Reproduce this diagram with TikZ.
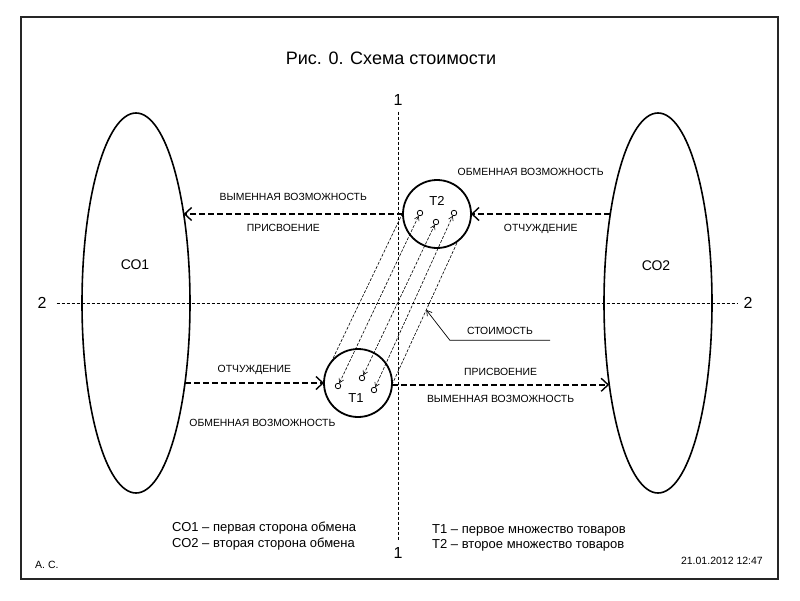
\documentclass[tikz,border=0pt]{standalone}
\usepackage{fontspec}
\setmainfont{Liberation Sans}
\usetikzlibrary{arrows.meta,shapes.geometric,positioning}

\begin{document}
\begin{tikzpicture}[
    x=1pt, y=-1pt,
    party/.style={ellipse, draw, line width=1.6pt, minimum width=108pt, minimum height=380pt, inner sep=0pt, outer sep=0pt},
    goods/.style={circle, draw, line width=1.8pt, minimum size=68pt, inner sep=0pt, outer sep=0pt},
    item/.style={circle, draw, line width=0.8pt, minimum size=5.5pt, inner sep=0pt},
    axisline/.style={line width=0.7pt, dash pattern=on 3pt off 2pt},
    flow/.style={line width=1.8pt, dash pattern=on 6pt off 3pt, -{Straight Barb[length=7pt,width=13pt,line width=1.4pt]}},
    band/.style={line width=0.6pt, dash pattern=on 3pt off 1.5pt},
    pair/.style={band, {Straight Barb[length=4pt,width=5pt]}-{Straight Barb[length=4pt,width=5pt]}},
    pointer/.style={line width=0.7pt, -{Straight Barb[length=5pt,width=6pt]}},
    tag/.style={font=\fontsize{10.4}{12}\selectfont, inner sep=0pt},
    num/.style={font=\fontsize{16}{18}\selectfont, inner sep=0pt},
    note/.style={font=\fontsize{13}{15}\selectfont, inner sep=0pt, anchor=base west}
]
\fill[white] (0,0) rectangle (800,600);
\useasboundingbox (0,0) rectangle (800,600);
\draw[line width=2.2pt, black!85] (21,17) rectangle (778,579);

\node[font=\fontsize{18}{20}\selectfont] (title) at (391,58) {Рис. 0. Схема стоимости};

% axes
\node[num] (ax1t) at (398,100) {1};
\node[num] (ax1b) at (398,553) {1};
\node[num] (ax2l) at (42,303) {2};
\node[num] (ax2r) at (748,303) {2};
\draw[axisline, shorten <=6pt, shorten >=7pt] (ax1t) -- (ax1b);
\draw[axisline, shorten <=10pt, shorten >=6pt] (ax2l) -- (ax2r);

% sides of the exchange
\node[party] (co1) at (136,303) {};
\node[party] (co2) at (658,303) {};
\node[font=\fontsize{14}{16}\selectfont] (co1txt) at (135,265) {СО1};
\node[font=\fontsize{14}{16}\selectfont] (co2txt) at (656,266) {СО2};

% sets of goods
\node[goods] (t1) at (358,383) {};
\node[goods] (t2) at (437,214) {};
\node[font=\fontsize{13}{15}\selectfont] (t1txt) at (356,398) {Т1};
\node[font=\fontsize{13}{15}\selectfont] (t2txt) at (437,201) {Т2};

\node[item] (a1) at (338,386) {};
\node[item] (a2) at (362,378) {};
\node[item] (a3) at (374,390) {};
\node[item] (b1) at (420,213) {};
\node[item] (b2) at (436,222) {};
\node[item] (b3) at (454,213) {};
\foreach \i in {1,2,3}
    \draw[pair] (a\i) -- (b\i);

\draw[band] (t1.142) -- (t2.177);
\draw[band] (t1.-3) -- coordinate[pos=0.52] (valtip) (t2.-52);

\node[tag, inner ysep=5.3pt, minimum width=100pt] (valtxt) at (500,331) {СТОИМОСТЬ};
\draw[pointer] (valtxt.south east) -- (valtxt.south west) -- (valtip);

% flows between the sides and the goods
\draw[flow] (t2.west) -- node[tag, yshift=17pt] {ВЫМЕННАЯ ВОЗМОЖНОСТЬ}
    node[tag, yshift=-14pt, xshift=-10pt] {ПРИСВОЕНИЕ} (co1.62 |- t2.west);
\draw[flow] (co2.118 |- t2.east) -- node[tag, yshift=-15pt] {ОТЧУЖДЕНИЕ}
    node[tag, yshift=42pt, xshift=-10pt] {ОБМЕННАЯ ВОЗМОЖНОСТЬ} (t2.east);
\draw[flow] (co1.-59 |- t1.west) -- node[tag, yshift=13pt] {ОТЧУЖДЕНИЕ}
    node[tag, yshift=-40pt, xshift=8pt] {ОБМЕННАЯ ВОЗМОЖНОСТЬ} (t1.west);
\draw[flow] (t1.-3) -- node[tag, yshift=13pt] {ПРИСВОЕНИЕ}
    node[tag, yshift=-14pt] {ВЫМЕННАЯ ВОЗМОЖНОСТЬ} (co2.239 |- t1.-3);

% legend
\node[note] (leg1) at (172,531) {СО1 – первая сторона обмена};
\node[note] (leg2) at (172,547) {СО2 – вторая сторона обмена};
\node[note] (leg3) at (432,533) {Т1 – первое множество товаров};
\node[note] (leg4) at (432,548) {Т2 – второе множество товаров};

\node[font=\fontsize{10.5}{12}\selectfont, inner sep=0pt, anchor=base west] (author) at (35,568) {А. С.};
\node[font=\fontsize{10.5}{12}\selectfont, inner sep=0pt, anchor=base east] (date) at (763,564) {21.01.2012 12:47};
\end{tikzpicture}
\end{document}
